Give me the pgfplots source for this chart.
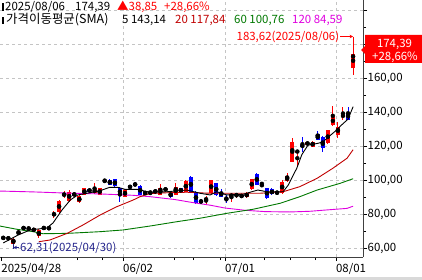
\documentclass[border=0pt]{standalone}
\usepackage{fontspec}
\setmainfont{Noto Sans CJK KR}
\usepackage{pgfplots}
\pgfplotsset{compat=1.18}
\usepackage{pgfplotstable}
\usetikzlibrary{arrows.meta}
\definecolor{cred}{HTML}{FF0000}
\definecolor{cblue}{HTML}{0000FF}
\definecolor{maA}{HTML}{000000}
\definecolor{maB}{HTML}{C00000}
\definecolor{maC}{HTML}{007800}
\definecolor{maD}{HTML}{E000E0}
\definecolor{gridc}{HTML}{C4C4C4}
\definecolor{lowblue}{HTML}{24248C}

\pgfplotstableread{
i O H L C
2 62.4 66.0 62.31 65.1
3 68.5 70.5 68.0 69.2
5 70.6 73.2 70.0 71.8
6 69.8 72.0 69.5 71.5
7 66.8 71.2 65.8 70.6
10 79.6 81.8 77.8 80.2
11 80.9 88.5 80.5 87.8
12 90.8 93.5 89.5 91.8
13 87.5 94.0 87.0 93.0
15 87.0 91.2 86.2 90.3
16 91.2 95.5 91.0 95.0
18 92.2 98.0 92.0 95.0
19 91.2 95.5 91.0 95.0
20 99.0 100.5 98.8 99.8
24 90.2 94.5 90.0 94.1
25 95.5 96.8 95.2 96.4
29 92.2 93.5 91.2 93.2
31 91.2 97.5 91.0 95.1
32 94.0 95.5 93.5 95.0
34 91.2 98.0 91.0 96.1
36 93.1 99.8 93.0 99.4
40 88.2 90.5 85.3 89.2
41 92.2 100.2 92.0 100.0
45 90.0 92.5 87.3 91.8
46 90.5 92.5 89.5 91.8
48 89.8 92.8 89.5 92.5
49 94.5 100.8 94.3 100.4
55 92.5 100.2 91.8 99.0
56 99.2 104.2 98.8 102.4
57 110.8 124.5 110.5 122.5
58 116.3 117.8 107.8 117.2
60 120.8 122.5 120.5 122.2
61 119.6 122.8 119.4 122.5
64 121.6 129.6 121.4 129.4
65 132.4 143.5 132.0 137.2
66 126.5 134.3 124.5 131.4
67 137.2 143.0 135.3 138.2
69 165.9 183.62 161.8 174.39
}\upcandles

\pgfplotstableread{
i O H L C
0 66.4 67.0 64.8 65.6
1 66.0 66.6 64.8 65.4
4 72.2 72.8 70.6 71.4
8 72.4 73.0 70.5 71.2
9 72.2 72.8 70.5 71.0
14 92.3 92.8 90.3 90.7
17 94.5 95.5 92.2 93.2
21 100.0 100.3 97.0 97.2
22 100.5 100.8 96.0 96.2
23 95.2 95.8 87.2 91.2
26 97.8 98.8 96.2 96.8
27 96.6 97.0 91.0 91.2
28 93.5 93.8 91.0 91.2
30 94.0 95.0 91.7 92.5
33 92.8 93.2 89.6 89.8
35 95.1 95.5 92.5 92.8
37 101.5 102.2 93.0 93.1
38 93.1 93.3 86.0 86.3
39 88.4 88.8 86.0 86.4
42 98.0 98.3 90.8 91.2
43 93.1 94.5 89.8 90.2
44 89.6 91.0 86.3 88.6
47 91.3 91.8 89.5 89.8
50 103.5 104.0 96.8 97.0
51 97.2 99.0 96.5 96.6
52 95.1 95.5 89.0 89.4
53 94.5 95.0 91.0 91.5
54 93.4 93.8 91.2 91.8
59 120.6 125.5 116.6 119.4
62 127.0 129.0 123.3 123.5
63 125.5 126.0 116.6 118.6
68 139.6 143.2 135.3 135.54
}\downcandles

\begin{document}
\begin{tikzpicture}
\useasboundingbox (0,0) rectangle (422bp,280bp);
\begin{axis}[
  at={(0,23bp)}, anchor=south west,
  scale only axis, width=363bp, height=257bp,
  xmin=-0.65, xmax=70.95, ymin=54.7, ymax=205.9,
  axis x line=bottom, axis y line=right,
  axis line style={-, draw=black!75, line width=0.8bp},
  tick align=outside, major tick length=4bp, minor tick length=3bp,
  tick style={black, line width=0.6bp},
  xtick={23.6,43.7,65.6},
  xticklabels={\mbox{06/02},\mbox{07/01},\mbox{08/01}},
  extra x ticks={-0.4},
  extra x tick labels={\mbox{2025/04/28}},
  extra x tick style={grid=none},
  minor xtick={14.5,19.5,33.7,37.4,42.9,51.4,56.7,61.5},
  ytick={60,80,...,200},
  yticklabels={\mbox{60,00},\mbox{80,00},\mbox{100,00},\mbox{120,00},\mbox{140,00},\mbox{160,00},{},{}},
  minor ytick={70,90,...,190},
  xmajorgrids, ymajorgrids,
  grid style={gridc, line width=0.6bp, dash pattern=on 3bp off 3bp},
  tick label style={font=\fontsize{11.5}{13}\selectfont, inner sep=0pt},
  x tick label style={anchor=north west, yshift=-2bp},
  y tick label style={anchor=west, xshift=0.5bp},
]
% wicks
\addplot[forget plot, only marks, mark=none,
  error bars/.cd, y dir=both, y explicit, error mark=none,
  error bar style={draw=cred, line width=1bp}]
  table[x=i, y expr={(\thisrow{H}+\thisrow{L})/2}, y error expr={(\thisrow{H}-\thisrow{L})/2}] {\upcandles};
\addplot[forget plot, only marks, mark=none,
  error bars/.cd, y dir=both, y explicit, error mark=none,
  error bar style={draw=cblue, line width=1bp}]
  table[x=i, y expr={(\thisrow{H}+\thisrow{L})/2}, y error expr={(\thisrow{H}-\thisrow{L})/2}] {\downcandles};
% bodies
\addplot[forget plot, only marks, mark=none,
  error bars/.cd, y dir=both, y explicit, error mark=none,
  error bar style={draw=cred, line width=4bp}]
  table[x=i, y expr={(\thisrow{O}+\thisrow{C})/2}, y error expr={max(abs(\thisrow{C}-\thisrow{O})/2,0.35)}] {\upcandles};
\addplot[forget plot, only marks, mark=none,
  error bars/.cd, y dir=both, y explicit, error mark=none,
  error bar style={draw=cblue, line width=4bp}]
  table[x=i, y expr={(\thisrow{O}+\thisrow{C})/2}, y error expr={max(abs(\thisrow{C}-\thisrow{O})/2,0.35)}] {\downcandles};
% 120 MA
\addplot[maD, line width=0.9bp, mark=none] coordinates {
(-0.65,93.5)(5.86,93.0)(12.56,92.3)(19.07,91.8)(25.58,91.0)(28.93,90.2)(33.86,88.5)(37.81,86.5)(40.77,85.2)(43.73,83.5)(47.67,82.2)(51.61,81.4)(56.55,81.2)(60.49,81.6)(63.85,82.4)(67.79,83.3)(69,84.59)};
% 60 MA
\addplot[maC, line width=0.9bp, mark=none] coordinates {
(-0.65,72.9)(2.7,71.0)(5.9,69.6)(7.8,68.4)(12.6,68.6)(19.1,69.6)(23.6,70.6)(28.9,72.9)(34.3,75.5)(38.8,77.5)(44.1,80.4)(49.3,82.8)(54.6,86.3)(58.5,90.2)(61.9,94.1)(66.4,98.0)(69,100.76)};
% 20 MA
\addplot[maB, line width=0.9bp, mark=none] coordinates {
(7.0,63.7)(9.2,64.7)(12.6,68.6)(15.7,73.5)(19.1,79.4)(22.4,84.3)(25.6,88.2)(27.0,90.2)(28.9,92.0)(32.3,92.5)(36.2,92.8)(40.8,92.2)(45.3,92.2)(50.6,92.2)(55.2,93.1)(58.5,96.1)(61.9,101.0)(65.0,106.9)(67.8,112.8)(69,117.84)};
% 5 MA
\addplot[maA, line width=0.9bp, mark=none] coordinates {
(0,63.0)(2.9,67.6)(5.3,70.6)(8.6,71.8)(9.8,74.7)(11.6,82.4)(13.2,88.2)(14.7,91.2)(17.1,92.5)(19.1,93.7)(21,95.7)(22.6,95.7)(24,94.5)(26.4,94.5)(28.9,92.8)(32.3,93.1)(36.2,94.1)(38.8,92.2)(40.8,91.2)(42.1,93.1)(44.1,91.2)(47.3,91.6)(50.2,94.1)(52,93.1)(55.2,93.1)(56.2,97.0)(57.9,107.0)(58.9,115.0)(60.1,120.5)(62.1,121.6)(63.1,122.5)(64,125.0)(65.4,128.5)(66.4,131.5)(68,135.8)(69,143.14)};
% annotations
\draw[cred, line width=0.8bp] (axis cs:69,183.62) -- (axis cs:69,184.4);
\draw[cred, line width=0.8bp, -{Stealth[length=3.5bp,width=3.5bp]}] (axis cs:66.5,184.4) -- (axis cs:69,184.4);
\node[cred, anchor=east, inner sep=0pt, font=\fontsize{11.5}{13}\selectfont] at (axis cs:66.3,184.4) {183,62(2025/08/06)};
\draw[lowblue, line width=0.8bp] (axis cs:2,62.31) -- (axis cs:2,59.6);
\draw[lowblue, line width=0.8bp, -{Stealth[length=3.5bp,width=3.5bp]}] (axis cs:3.05,60.3) -- (axis cs:2,60.3);
\node[lowblue, anchor=west, inner sep=0pt, font=\fontsize{11.5}{13}\selectfont] at (axis cs:3.3,60.1) {62,31(2025/04/30)};
\end{axis}
% legend text
\fill[black] (1.7bp,269.3bp) rectangle (4bp,276.7bp);
\fill[black] (1.7bp,256bp) rectangle (4bp,263.3bp);
\begin{scope}[every node/.style={anchor=base west, inner sep=0pt, font=\fontsize{11.5}{13}\selectfont}]
\node at (5bp,269bp) {2025/08/06};
\node at (75bp,269bp) {174,39};
\node[cred] at (117bp,269bp) {▲38,85};
\node[cred] at (164bp,269bp) {+28,66\%};
\node[font=\fontsize{12.5}{13}\selectfont] at (6bp,256bp) {가격이동평균(SMA)};
\node at (122bp,256bp) {5 143,14};
\node[maB] at (175bp,256bp) {20 117,84};
\node[maC] at (234bp,256bp) {60 100,76};
\node[maD] at (292bp,256bp) {120 84,59};
\end{scope}
% price box
\fill[cred] (365bp,245bp) -- (422bp,245bp) -- (422bp,217bp) -- (365bp,217bp) -- (365bp,226bp) -- (361bp,230bp) -- (365bp,234bp) -- cycle;
\node[white, inner sep=0pt, font=\fontsize{11.5}{13}\selectfont] at (394.5bp,236bp) {174,39};
\node[white, inner sep=0pt, font=\fontsize{11.5}{13}\selectfont] at (395bp,222.5bp) {+28,66\%};
% bottom scroll bar
\fill[black!15] (0,0) rectangle (422bp,3.3bp);
\end{tikzpicture}
\end{document}
